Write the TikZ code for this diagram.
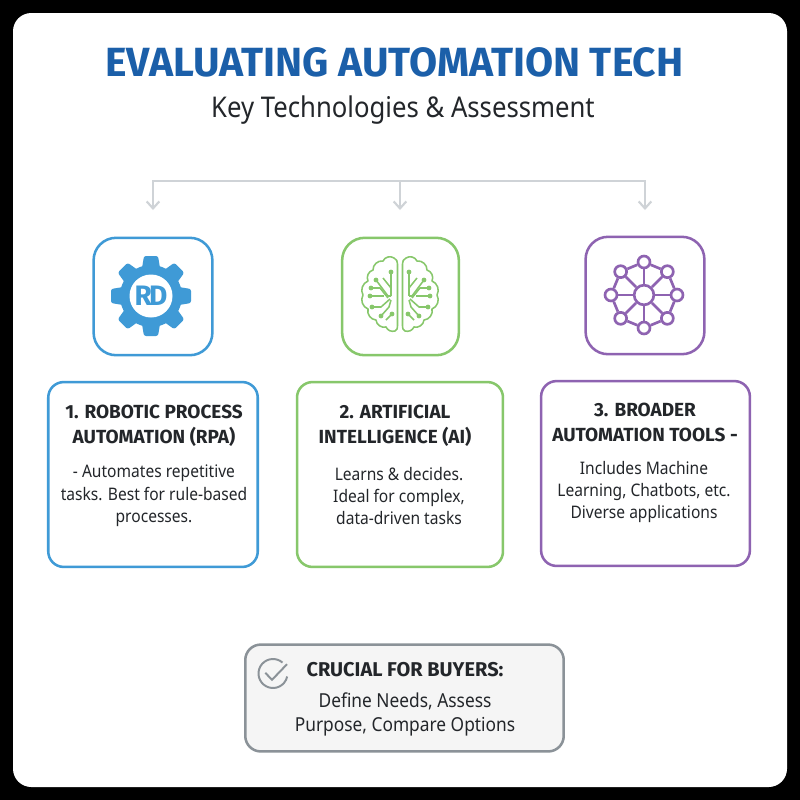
\documentclass[tikz,border=0pt]{standalone}
\usepackage{fontspec}
\setmainfont[FakeStretch=0.9]{Noto Sans}
\newfontfamily\titlefont{Fira Sans}
\usepackage{tikz}
\usetikzlibrary{calc,positioning,arrows.meta}
\definecolor{rpablue}{HTML}{3F9AD6}
\definecolor{aigreen}{HTML}{87C76B}
\definecolor{toolpurple}{HTML}{8E63B1}
\definecolor{titleblue}{HTML}{1B5FA9}
\definecolor{linegray}{HTML}{CFD3D7}
\definecolor{buyergray}{HTML}{8B9298}
\definecolor{inkdark}{HTML}{23262A}
\begin{document}
\begin{tikzpicture}[x=0.25mm, y=-0.25mm,
  iconbox/.style={draw, line width=1.8pt, rounded corners=16pt, minimum width=84.5pt, minimum height=83.5pt, inner sep=0pt},
  cardbox/.style={draw, line width=1.8pt, rounded corners=11pt, inner sep=0pt},
  headtext/.style={font=\titlefont\fontsize{13.5}{17.8}\selectfont\bfseries, text=inkdark, align=center, inner sep=0pt},
  bodytext/.style={font=\fontsize{12.3}{16}\selectfont, text=inkdark, align=center, inner sep=0pt},
  arrowline/.style={draw=linegray, line width=1.5pt, -{Straight Barb[length=5pt,width=9pt]}},
  netdot/.style={circle, draw=toolpurple, fill=white, line width=1.9pt, inner sep=0pt, minimum size=#1}]
    \fill[black] (0,0) rectangle (800,800);
    \fill[white, rounded corners=13pt] (13,13) rectangle (787,787);
    \node (title) [font=\titlefont\fontsize{29}{34}\selectfont\bfseries, text=titleblue, inner sep=0pt] at (394.5,62) {EVALUATING AUTOMATION TECH};
    \node (subtitle) [font=\fontsize{20.3}{24}\selectfont, text=inkdark, inner sep=0pt] at (403,110) {Key Technologies \& Assessment};

    \coordinate (hub) at (400,181);
    \coordinate (tiprpa) at (153,210);
    \coordinate (tipai) at (400,210);
    \coordinate (tiptool) at (645,210);
    \draw[arrowline] (hub) -| (tiprpa);
    \draw[arrowline] (hub) -- (tipai);
    \draw[arrowline] (hub) -| (tiptool);

    \node (rpaicon) [iconbox, draw=rpablue] at (153,296.5) {};
    \node (aiicon) [iconbox, draw=aigreen, minimum width=83pt] at (400.5,296.5) {};
    \node (toolicon) [iconbox, draw=toolpurple] at (645,295.5) {};

    \node (rpacard) [cardbox, draw=rpablue, minimum width=149pt, minimum height=131.5pt] at (153,474.5) {};
    \node (aicard) [cardbox, draw=aigreen, minimum width=146.5pt, minimum height=131.5pt] at (400,474.5) {};
    \node (toolcard) [cardbox, draw=toolpurple, minimum width=148.5pt, minimum height=131.5pt] at (645.5,473.5) {};

    \node (rpahead) [headtext] at (154,426) {1. ROBOTIC PROCESS\\AUTOMATION (RPA)};
    \node (aihead) [headtext] at (395,426) {2. ARTIFICIAL\\INTELLIGENCE (AI)};
    \node (toolhead) [headtext] at (645,422) {3. BROADER\\AUTOMATION TOOLS -};
    \node (rpabody) [bodytext] at (154,496) {- Automates repetitive\\tasks. Best for rule-based\\processes.};
    \node (aibody) [bodytext] at (399,496) {Learns \& decides.\\Ideal for complex,\\data-driven tasks};
    \node (toolbody) [bodytext] at (644,492) {Includes Machine\\Learning, Chatbots, etc.\\Diverse applications};

    \begin{scope}[shift={(151,296)}]
      \fill[rpablue] (0,0) circle (31);
      \foreach \a in {0,45,...,315}
        \fill[rpablue, rotate=\a, rounded corners=1.5pt] (-9,-28) -- (-7,-40) -- (7,-40) -- (9,-28) -- cycle;
      \fill[white] (0,0) circle (21.5);
      \node (gearlabel) [font=\titlefont\fontsize{20}{20}\selectfont\bfseries, text=rpablue, inner sep=0pt] at (0,0) {R\kern-2pt D};
    \end{scope}

    \foreach \s in {1,-1} {
      \begin{scope}[shift={(400,294)}, xscale=\s, draw=aigreen, line width=1.1pt, line join=round]
        \draw (2.5,-30) to[bend left=35] (6,-36) to[bend left=50] (17,-33) to[bend left=50] (27,-24)
          to[bend left=50] (32,-13) to[bend left=50] (37,1) to[bend left=50] (32,15)
          to[bend left=50] (24,26) to[bend left=50] (14,33) to[bend left=40] (5,37) to[bend left=35] (2.5,32) -- cycle;
        \draw (9,-22) -- (9,2);
        \draw (17,-16) -- (9,-6);
        \draw (24,-14) -- (12,2) -- (9,2);
        \draw (29,-6) -- (20,-6) -- (12,4);
        \draw (30,2) -- (16,2);
        \draw (28,13) -- (19,13) -- (10,5);
        \draw (19,22) -- (11,13) -- (9,6);
        \draw (8,20) -- (14,26);
        \foreach \dx/\dy in {9/-22,24/-14,29/-6,30/2,28/13,19/22,8/20}
          \fill[aigreen] (\dx,\dy) circle (2.4);
      \end{scope}
    }

    \coordinate (nethub) at (644,295);
    \foreach \a/\n in {0/a,45/b,90/c,135/d,180/e,225/f,270/g,315/h}
      \node (net\n) [netdot=8.5pt] at ($(nethub)+(\a:33)$) {};
    \node (netmid) [netdot=14pt] at (nethub) {};
    \foreach \n/\m in {a/b,b/c,c/d,d/e,e/f,f/g,g/h,h/a} {
      \draw[toolpurple, line width=1.9pt] (net\n) -- (net\m);
      \draw[toolpurple, line width=1.9pt] (netmid) -- (net\n);
    }

    \node (buyerbox) [cardbox, draw=buyergray, fill=gray!8, minimum width=226.5pt, minimum height=76pt] at (404.5,698) {};
    \begin{scope}[shift={(273,673.5)}, yscale=-1, buyergray, line width=1.4pt]
      \draw (49:14.5) arc (49:348:14.5);
      \draw (-7.7,0.7) -- (-1,-6.3) -- (14,9.3);
    \end{scope}
    \node (buyerhead) [headtext, font=\titlefont\fontsize{14.2}{17}\selectfont\bfseries] at (405,670) {CRUCIAL FOR BUYERS:};
    \node (buyerbody) [bodytext, font=\fontsize{13.7}{17}\selectfont] at (405,714) {Define Needs, Assess\\Purpose, Compare Options};
  \end{tikzpicture}
\end{document}
